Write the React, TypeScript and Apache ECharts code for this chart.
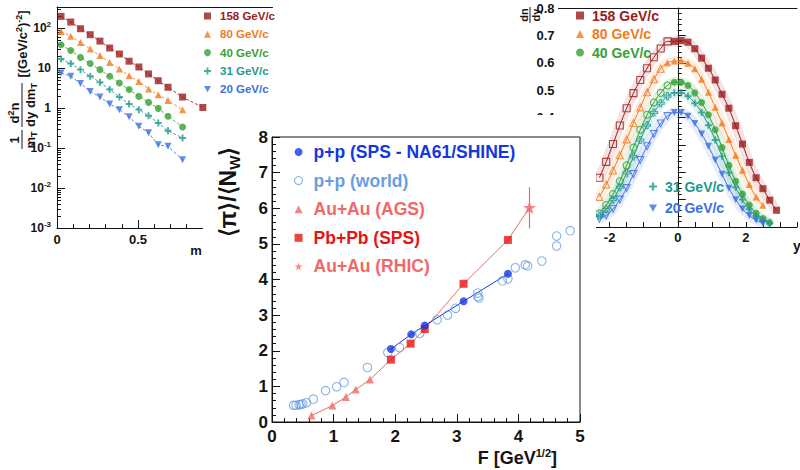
import { useEffect, useRef } from 'react';
import * as echarts from 'echarts';

const FONT = "'Liberation Sans', Arial, Helvetica, sans-serif";
const INK = '#141414';

const PLUS = 'path://M3.6,0H6.4V3.6H10V6.4H6.4V10H3.6V6.4H0V3.6H3.6Z';
const TRI_DOWN = 'path://M0,0H10L5,9Z';
const STAR = 'path://M50,0L61.2,34.5L97.6,34.5L68.2,55.9L79.4,90.5L50,69.1L20.6,90.5L31.8,55.9L2.4,34.5L38.8,34.5Z';

// ---------- energies (shared by the two side panels) ----------
const energies = ['158 GeV/c', '80 GeV/c', '40 GeV/c', '31 GeV/c', '20 GeV/c'];
const energyColors = ['#9c1b1b', '#f27a1e', '#36a034', '#1d9a8c', '#3a6fe2'];
const energySymbols = ['rect', 'triangle', 'circle', PLUS, TRI_DOWN];

// ---------- left panel: 1/mT d2n/dy dmT vs mT - m ----------
const mtX158 = [0.025, 0.085, 0.145, 0.205, 0.265, 0.325, 0.385, 0.445, 0.505, 0.565, 0.625, 0.685, 0.775, 0.9];
const mtX = [0.025, 0.085, 0.145, 0.205, 0.265, 0.325, 0.385, 0.445, 0.505, 0.565, 0.625, 0.685, 0.775];
const mt158 = [195, 141, 96, 68, 47, 31.6, 22.4, 14.8, 10.6, 7.1, 4.8, 3.3, 1.88, 1.03];
const mt80 = [82, 62, 43.6, 29.9, 20.4, 13.8, 9.4, 6.4, 4.6, 3.0, 2.15, 1.55, 0.9];
const mt40 = [38, 27.5, 18.4, 12.9, 9.1, 6.2, 4.2, 2.9, 1.95, 1.38, 0.98, 0.62, 0.335];
const mt31 = [16.8, 12.9, 9.1, 6.2, 4.4, 2.9, 1.88, 1.26, 0.91, 0.64, 0.42, 0.27, 0.178];
const mt20 = [7.5, 6.2, 4.1, 2.6, 1.88, 1.26, 0.91, 0.6, 0.35, 0.24, 0.12, 0.11, 0.051];

// ---------- right panel: dn/dy vs y (measured = filled, reflected = open) ----------
const rap158X = [-0.1, 0.1, 0.3, 0.5, 0.7, 0.9, 1.1, 1.3, 1.5, 1.7, 1.9, 2.1, 2.3, 2.5, 2.7, 2.9];
const rap158 = [0.678, 0.681, 0.675, 0.651, 0.617, 0.58, 0.537, 0.485, 0.434, 0.37, 0.303, 0.236, 0.18, 0.14, 0.098, 0.061];
const refl158X = [-0.3, -0.5, -0.7, -0.9, -1.1, -1.3, -1.5, -1.7, -1.9, -2.1, -2.3];
const refl158 = [0.678, 0.652, 0.62, 0.58, 0.537, 0.489, 0.434, 0.371, 0.303, 0.238, 0.18];

const rap80X = [-0.3, -0.1, 0.1, 0.3, 0.5, 0.7, 0.9, 1.1, 1.3, 1.5, 1.7, 1.9, 2.1, 2.3, 2.5];
const rap80 = [0.6, 0.606, 0.607, 0.598, 0.578, 0.54, 0.492, 0.437, 0.38, 0.32, 0.262, 0.207, 0.155, 0.11, 0.079];
const refl80X = [-0.5, -0.7, -0.9, -1.1, -1.3, -1.5, -1.7, -1.9, -2.1, -2.3];
const refl80 = [0.578, 0.54, 0.492, 0.437, 0.38, 0.32, 0.262, 0.207, 0.155, 0.11];

const rap40X = [-0.1, 0.1, 0.3, 0.5, 0.7, 0.9, 1.1, 1.3, 1.5, 1.7, 1.9, 2.1, 2.3, 2.5, 2.7];
const rap40 = [0.529, 0.529, 0.517, 0.49, 0.455, 0.41, 0.355, 0.29, 0.225, 0.167, 0.12, 0.08, 0.05, 0.031, 0.016];
const refl40X = [-0.3, -0.5, -0.7, -0.9, -1.1, -1.3, -1.5, -1.7, -1.9, -2.1, -2.3];
const refl40 = [0.517, 0.49, 0.455, 0.41, 0.355, 0.29, 0.225, 0.167, 0.12, 0.08, 0.05];

const rap31X = [-0.1, 0.1, 0.3, 0.5, 0.7, 0.9, 1.1, 1.3, 1.5, 1.7, 1.9, 2.1, 2.3, 2.5, 2.7];
const rap31 = [0.49, 0.49, 0.478, 0.452, 0.418, 0.372, 0.318, 0.258, 0.198, 0.145, 0.1, 0.065, 0.04, 0.024, 0.013];
const refl31X = [-0.3, -0.5, -0.7, -0.9, -1.1, -1.3, -1.5, -1.7, -1.9, -2.1, -2.3];
const refl31 = [0.478, 0.452, 0.418, 0.372, 0.318, 0.258, 0.198, 0.145, 0.1, 0.065, 0.042];

const rap20X = [-0.1, 0.1, 0.3, 0.5, 0.7, 0.9, 1.1, 1.3, 1.5, 1.7, 1.9, 2.1, 2.3, 2.5];
const rap20 = [0.418, 0.418, 0.405, 0.378, 0.34, 0.295, 0.245, 0.193, 0.142, 0.1, 0.066, 0.042, 0.025, 0.014];
const refl20X = [-0.3, -0.5, -0.7, -0.9, -1.1, -1.3, -1.5, -1.7, -1.9, -2.1, -2.3];
const refl20 = [0.405, 0.378, 0.34, 0.295, 0.245, 0.193, 0.142, 0.1, 0.066, 0.042, 0.03];

// ---------- centre panel: <pi>/<N_W> vs F ----------
const ppWorldF = [0.35, 0.39, 0.44, 0.47, 0.5, 0.56, 0.67, 0.87, 1.05, 1.17, 1.55, 1.88, 2.07, 2.4, 2.68, 2.85, 2.98, 3.34, 3.34, 3.36, 3.74, 3.83, 3.95, 4.11, 4.15, 4.38, 4.62, 4.62, 4.84];
const ppWorldPi = [0.47, 0.47, 0.49, 0.49, 0.51, 0.54, 0.64, 0.88, 0.99, 1.11, 1.53, 1.95, 2.09, 2.49, 2.87, 3.0, 3.19, 3.62, 3.52, 3.48, 3.96, 4.02, 4.33, 4.41, 4.38, 4.52, 5.22, 4.94, 5.37];
const na61F = [1.93, 2.26, 2.48, 3.11, 3.83];
const na61Pi = [2.05, 2.46, 2.71, 3.39, 4.16];
const agsF = [0.64, 0.98, 1.2, 1.36, 1.59];
const agsPi = [0.18, 0.46, 0.7, 0.91, 1.19];
const pbF = [1.93, 2.25, 2.48, 3.11, 3.83];
const pbPi = [1.75, 2.2, 2.61, 3.88, 5.11];
const rhicF = [4.18];
const rhicPi = [6.02];
const rhicErr = [5.43, 6.59];

const centreNames = ['p+p (SPS - NA61/SHINE)', 'p+p (world)', 'Au+Au (AGS)', 'Pb+Pb (SPS)', 'Au+Au (RHIC)'];
const C_NA61 = '#1438e0';
const C_WORLD = '#6a9ee2';
const C_AA = '#f06868';
const C_PB = '#e81414';

const zip = (xs: number[], ys: number[]) => xs.map((x, i) => [x, ys[i]]);

const axisLineStyle = { lineStyle: { color: INK, width: 1 } };
const labelBase = { color: INK, fontWeight: 'bold' as const, fontFamily: FONT };

function buildOption() {
  const series: any[] = [];

  // ----- left panel
  const leftX = [mtX158, mtX, mtX, mtX, mtX];
  const leftY = [mt158, mt80, mt40, mt31, mt20];
  energies.forEach((name, i) => {
    const data = zip(leftX[i], leftY[i]);
    series.push({
      type: 'line', xAxisIndex: 0, yAxisIndex: 0, data, symbol: 'none', silent: true, z: 2,
      lineStyle: { color: energyColors[i], width: 1, type: [3, 2], opacity: 0.85 },
    });
    series.push({
      type: 'scatter', name, xAxisIndex: 0, yAxisIndex: 0, data, z: 3,
      symbol: energySymbols[i], symbolSize: 7, itemStyle: { color: energyColors[i] },
    });
  });

  // ----- right panel
  const filledX = [rap158X, rap80X, rap40X, rap31X, rap20X];
  const filledY = [rap158, rap80, rap40, rap31, rap20];
  const openX = [refl158X, refl80X, refl40X, refl31X, refl20X];
  const openY = [refl158, refl80, refl40, refl31, refl20];
  energies.forEach((name, i) => {
    const filled = zip(filledX[i], filledY[i]);
    const open = zip(openX[i], openY[i]);
    const curve = [...open].reverse().concat(filled);
    series.push({
      type: 'line', xAxisIndex: 2, yAxisIndex: 1, data: curve, symbol: 'none', smooth: 0.4, silent: true, z: 1,
      lineStyle: { color: energyColors[i], width: 10, opacity: 0.12 },
    });
    series.push({
      type: 'line', xAxisIndex: 2, yAxisIndex: 1, data: curve, symbol: 'none', smooth: 0.4, silent: true, z: 2,
      lineStyle: { color: energyColors[i], width: 1 },
    });
    series.push({
      type: 'scatter', name, xAxisIndex: 2, yAxisIndex: 1, data: filled, z: 3,
      symbol: energySymbols[i], symbolSize: 7, itemStyle: { color: energyColors[i] },
    });
    series.push({
      type: 'scatter', xAxisIndex: 2, yAxisIndex: 1, data: open, z: 3,
      symbol: energySymbols[i], symbolSize: 7,
      itemStyle: { color: 'rgba(255,255,255,0)', borderColor: energyColors[i], borderWidth: 1.1 },
    });
  });

  // ----- centre panel
  series.push({
    type: 'line', xAxisIndex: 4, yAxisIndex: 2, symbol: 'none', silent: true, z: 12,
    data: zip(agsF, agsPi).concat(zip(pbF, pbPi), zip(rhicF, rhicPi)),
    lineStyle: { color: C_AA, width: 1 },
  });
  series.push({
    type: 'line', xAxisIndex: 4, yAxisIndex: 2, symbol: 'none', silent: true, z: 12,
    data: [[rhicF[0], rhicErr[0]], [rhicF[0], rhicErr[1]]],
    lineStyle: { color: C_AA, width: 1.2 },
  });
  series.push({
    type: 'line', xAxisIndex: 4, yAxisIndex: 2, symbol: 'none', silent: true, z: 12,
    data: zip(na61F, na61Pi), lineStyle: { color: C_NA61, width: 1 },
  });
  series.push({
    type: 'scatter', name: centreNames[1], xAxisIndex: 4, yAxisIndex: 2, z: 13,
    data: zip(ppWorldF, ppWorldPi), symbol: 'circle', symbolSize: 8.5,
    itemStyle: { color: 'rgba(255,255,255,0)', borderColor: C_WORLD, borderWidth: 1.1 },
  });
  series.push({
    type: 'scatter', name: centreNames[2], xAxisIndex: 4, yAxisIndex: 2, z: 14,
    data: zip(agsF, agsPi), symbol: 'triangle', symbolSize: 8, itemStyle: { color: C_AA },
  });
  series.push({
    type: 'scatter', name: centreNames[3], xAxisIndex: 4, yAxisIndex: 2, z: 14,
    data: zip(pbF, pbPi), symbol: 'rect', symbolSize: 8, itemStyle: { color: C_PB },
  });
  series.push({
    type: 'scatter', name: centreNames[0], xAxisIndex: 4, yAxisIndex: 2, z: 14,
    data: zip(na61F, na61Pi), symbol: 'circle', symbolSize: 8, itemStyle: { color: C_NA61 },
  });
  series.push({
    type: 'scatter', name: centreNames[4], xAxisIndex: 4, yAxisIndex: 2, z: 14,
    data: zip(rhicF, rhicPi), symbol: STAR, symbolSize: 13, itemStyle: { color: C_AA },
  });

  const supRich = {
    m: { ...labelBase, fontSize: 12, lineHeight: 16 },
    s: { ...labelBase, fontSize: 8, lineHeight: 9, verticalAlign: 'top' },
  };

  const frameAxis = (gridIndex: number, min: number, max: number) => ({
    type: 'value', gridIndex, position: 'top', min, max, z: 1,
    axisLine: { show: true, ...axisLineStyle }, axisTick: { show: false }, axisLabel: { show: false },
    splitLine: { show: false },
  });

  const xAxis: any[] = [
    {
      type: 'value', gridIndex: 0, min: 0, max: 1.33, interval: 0.5, z: 1,
      axisLine: axisLineStyle, splitLine: { show: false },
      axisTick: { inside: true, length: 8, ...axisLineStyle },
      minorTick: { show: true, splitNumber: 5, length: 4, ...axisLineStyle },
      axisLabel: { ...labelBase, fontSize: 13, margin: 5, showMaxLabel: false },
    },
    frameAxis(0, 0, 1.33),
    {
      type: 'value', gridIndex: 1, min: -3.5, max: 3.5, interval: 0.5, z: 1,
      axisLine: axisLineStyle, splitLine: { show: false },
      axisTick: { inside: true, length: 5, ...axisLineStyle },
      axisLabel: {
        ...labelBase, fontSize: 13, margin: 4,
        formatter: (v: number) => (Math.abs(v % 2) < 1e-6 ? String(v) : ''),
      },
    },
    frameAxis(1, -3.5, 3.5),
    {
      type: 'value', gridIndex: 2, min: 0, max: 5, interval: 1, z: 11,
      axisLine: axisLineStyle, splitLine: { show: false },
      axisTick: { inside: true, length: 8, ...axisLineStyle },
      minorTick: { show: true, splitNumber: 5, length: 4, ...axisLineStyle },
      axisLabel: { ...labelBase, fontSize: 17, margin: 6 },
    },
  ];

  const yAxis: any[] = [
    {
      type: 'log', logBase: 10, gridIndex: 0, min: 0.001, max: 335, z: 1,
      axisLine: axisLineStyle, splitLine: { show: false },
      axisTick: { inside: true, length: 8, ...axisLineStyle },
      minorTick: { show: true, splitNumber: 9, length: 4, ...axisLineStyle },
      axisLabel: {
        ...labelBase, fontSize: 12, margin: 6, showMaxLabel: false,
        formatter: (v: number) => {
          const l = Math.log10(v);
          const e = Math.round(l);
          if (Math.abs(l - e) > 0.01) return '';
          if (e === 0) return '{m|1}';
          if (e === 1) return '{m|10}';
          return `{m|10}{s|${e}}`;
        },
        rich: supRich,
      },
    },
    {
      type: 'value', gridIndex: 1, min: 0, max: 0.8, interval: 0.1, z: 1,
      axisLine: axisLineStyle, splitLine: { show: false },
      axisTick: { inside: true, length: 8, ...axisLineStyle },
      minorTick: { show: true, splitNumber: 5, length: 4, ...axisLineStyle },
      axisLabel: { ...labelBase, fontSize: 13, margin: 4, formatter: (v: number) => v.toFixed(1) },
    },
    {
      type: 'value', gridIndex: 2, min: 0, max: 8, interval: 1, z: 11,
      axisLine: axisLineStyle, splitLine: { show: false },
      axisTick: { inside: true, length: 8, ...axisLineStyle },
      minorTick: { show: true, splitNumber: 5, length: 4, ...axisLineStyle },
      axisLabel: { ...labelBase, fontSize: 17, margin: 4 },
    },
  ];

  const legendBase = {
    orient: 'vertical', padding: 0, selectedMode: false, itemWidth: 7, itemHeight: 7,
    textStyle: { fontFamily: FONT, fontWeight: 'bold' },
  };
  const energyItem = (i: number) => ({ name: energies[i], textStyle: { color: energyColors[i] } });

  const legend: any[] = [
    {
      ...legendBase, left: 204, top: 9, itemGap: 4.3, z: 3,
      textStyle: { ...legendBase.textStyle, fontSize: 11.5, lineHeight: 14, padding: [0, 0, 0, 4] },
      data: [0, 1, 2, 3, 4].map(energyItem),
    },
    {
      ...legendBase, left: 576, top: 7, itemGap: 1.5, itemWidth: 8, itemHeight: 8, z: 3,
      textStyle: { ...legendBase.textStyle, fontSize: 14, lineHeight: 17, padding: [0, 0, 0, 3] },
      data: [0, 1, 2].map(energyItem),
    },
    {
      ...legendBase, left: 649, top: 178, itemGap: 4.6, itemWidth: 8, itemHeight: 8, z: 3,
      textStyle: { ...legendBase.textStyle, fontSize: 14, lineHeight: 17, padding: [0, 0, 0, 3] },
      data: [3, 4].map(energyItem),
    },
    {
      ...legendBase, left: 294, top: 142, itemGap: 8.6, itemWidth: 8, itemHeight: 8, z: 15,
      textStyle: { ...legendBase.textStyle, fontSize: 17.5, lineHeight: 20, padding: [0, 0, 0, 6] },
      data: [
        { name: centreNames[0], textStyle: { color: C_NA61 } },
        { name: centreNames[1], textStyle: { color: C_WORLD }, itemStyle: { color: 'rgba(255,255,255,0)', borderColor: C_WORLD, borderWidth: 1.1 } },
        { name: centreNames[2], textStyle: { color: C_AA } },
        { name: centreNames[3], textStyle: { color: C_PB } },
        { name: centreNames[4], textStyle: { color: C_AA } },
      ],
    },
  ];

  const t = (extra: any) => ({ fill: INK, fontFamily: FONT, fontWeight: 'bold', textAlign: 'center', textVerticalAlign: 'middle', ...extra });
  const subR = (size: number) => ({ s: { fontSize: size, fontWeight: 'bold', fontFamily: FONT, fill: INK, lineHeight: size + 1, verticalAlign: 'bottom' } });
  const supR = (size: number) => ({ p: { fontSize: size, fontWeight: 'bold', fontFamily: FONT, fill: INK, lineHeight: size + 1, verticalAlign: 'top' } });

  const graphic: any[] = [
    // left y title
    {
      type: 'group', x: 22, y: 150, rotation: Math.PI / 2,
      children: [
        { type: 'text', x: 10, y: -8, z: 3, style: t({ text: '1', fontSize: 13 }) },
        { type: 'line', z: 3, shape: { x1: 1, y1: 0, x2: 20, y2: 0 }, style: { stroke: INK, lineWidth: 1 } },
        { type: 'text', x: 10, y: 8, z: 3, style: t({ text: 'm{s|T}', fontSize: 13, lineHeight: 16, rich: subR(9) }) },
        { type: 'text', x: 37, y: -8, z: 3, style: t({ text: 'd{p|2}n', fontSize: 13, lineHeight: 16, rich: supR(9) }) },
        { type: 'line', z: 3, shape: { x1: 23, y1: 0, x2: 67, y2: 0 }, style: { stroke: INK, lineWidth: 1 } },
        { type: 'text', x: 45, y: 8, z: 3, style: t({ text: 'dy dm{s|T}', fontSize: 13, lineHeight: 16, rich: subR(9) }) },
        { type: 'text', x: 106, y: 0, z: 3, style: t({ text: '[(GeV/c{p|2}){p|-2}]', fontSize: 13, lineHeight: 16, rich: supR(9) }) },
      ],
    },
    { type: 'text', x: 196, y: 250, z: 3, style: t({ text: 'm', fontSize: 13 }) },
    // right y title
    {
      type: 'group', x: 530, y: 15, rotation: Math.PI / 2,
      children: [
        { type: 'text', x: 0, y: -6, z: 3, style: t({ text: 'dn', fontSize: 11 }) },
        { type: 'line', z: 3, shape: { x1: -8, y1: 0, x2: 8, y2: 0 }, style: { stroke: INK, lineWidth: 1 } },
        { type: 'text', x: 0, y: 6, z: 3, style: t({ text: 'dy', fontSize: 11 }) },
      ],
    },
    { type: 'text', x: 797, y: 246, z: 3, style: t({ text: 'y', fontSize: 14 }) },
    // white inset card for the centre panel
    { type: 'rect', z: 10, shape: { x: 203, y: 115, width: 393, height: 355 }, style: { fill: '#ffffff' } },
    // centre titles
    {
      type: 'group', x: 228, y: 192, rotation: Math.PI / 2,
      children: [
        { type: 'text', x: 0, y: 0, z: 15, style: t({ text: '⟨π⟩/⟨N{s|W}⟩', fontSize: 23, lineHeight: 28, rich: subR(15) }) },
      ],
    },
    { type: 'text', x: 557, y: 458, z: 15, style: t({ text: 'F [GeV{p|1/2}]', fontSize: 18, lineHeight: 22, textAlign: 'right', rich: supR(11) }) },
  ];

  return {
    animation: false,
    backgroundColor: '#ffffff',
    grid: [
      { left: 57, top: 7, width: 215.5, height: 221, show: false },
      { left: 558.5, top: 8, width: 246.4, height: 219, show: false },
      { left: 272, top: 137, width: 308, height: 285, show: true, borderColor: INK, borderWidth: 1, backgroundColor: 'rgba(0,0,0,0)', z: 11 },
    ],
    xAxis,
    yAxis,
    legend,
    graphic,
    series,
  };
}

export default function App() {
  const ref = useRef<HTMLDivElement>(null);
  useEffect(() => {
    const chart = echarts.init(ref.current!, null, { renderer: 'svg' });
    chart.setOption(buildOption() as any);
    return () => chart.dispose();
  }, []);
  return (
    <div
      ref={ref}
      style={{ position: 'fixed', left: 0, top: 0, width: 800, height: 470, background: '#fff' }}
    />
  );
}
